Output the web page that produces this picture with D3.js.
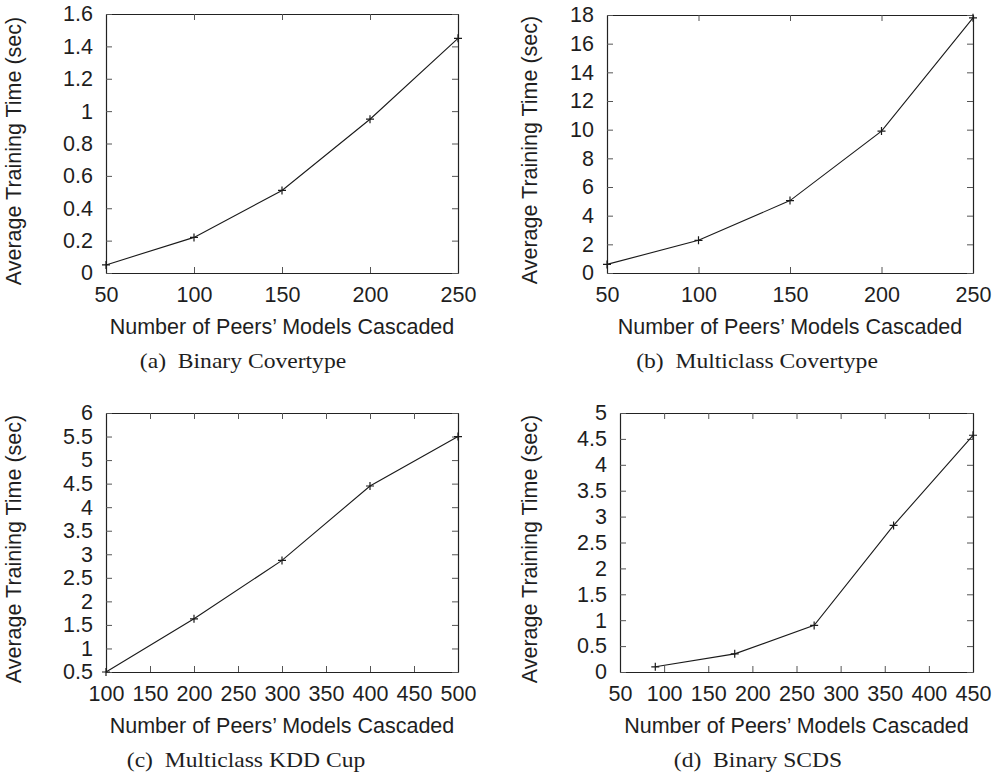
<!DOCTYPE html>
<html>
<head>
<meta charset="utf-8">
<script src="https://cdn.jsdelivr.net/npm/d3@7"></script>
<style>
  body { margin: 0; background: #fff; }
  svg { display: block; }
  .axis text { font-family: "Liberation Sans", Arial, sans-serif; font-size: 21.5px; fill: #1e1e1e; }
  .axis .domain { stroke: #222; stroke-width: 1.2; }
  .axis line { stroke: #555; stroke-width: 1; }
</style>
</head>
<body>
<div id="chart"></div>
<script>
// ******************** data ********************
const xBinaryCover = [50, 100, 150, 200, 250]
const yBinaryCover = [0.05, 0.22, 0.51, 0.95, 1.45]

const xMultiCover = [50, 100, 150, 200, 250]
const yMultiCover = [0.6, 2.28, 5.05, 9.9, 17.8]

const xKdd = [100, 200, 300, 400, 500]
const yKdd = [0.5, 1.63, 2.87, 4.45, 5.5]

const xScds = [90, 180, 270, 360, 450]
const yScds = [0.1, 0.35, 0.9, 2.83, 4.57]

// tick values
const xTicksCover = [50, 100, 150, 200, 250]
const xTicksKdd = [100, 150, 200, 250, 300, 350, 400, 450, 500]
const xTicksScds = [50, 100, 150, 200, 250, 300, 350, 400, 450]
const yTicksBinaryCover = [0, 0.2, 0.4, 0.6, 0.8, 1, 1.2, 1.4, 1.6]
const yTicksMultiCover = [0, 2, 4, 6, 8, 10, 12, 14, 16, 18]
const yTicksKdd = [0.5, 1, 1.5, 2, 2.5, 3, 3.5, 4, 4.5, 5, 5.5, 6]
const yTicksScds = [0, 0.5, 1, 1.5, 2, 2.5, 3, 3.5, 4, 4.5, 5]

const captionTags = ["(a)", "(b)", "(c)", "(d)"]
const captionNames = ["Binary Covertype", "Multiclass Covertype", "Multiclass KDD Cup", "Binary SCDS"]

const xTitle = "Number of Peers\u2019 Models Cascaded"
const yTitle = "Average Training Time (sec)"

// ******************** layout ********************
const width = 1003
const height = 776

const panels = [
  { xs: xBinaryCover, ys: yBinaryCover, xt: xTicksCover, yt: yTicksBinaryCover,
    left: 106, right: 458, top: 14, bottom: 273, ytx: 21, yty: 151, capX: 243, capY: 368 },
  { xs: xMultiCover, ys: yMultiCover, xt: xTicksCover, yt: yTicksMultiCover,
    left: 607, right: 973, top: 15, bottom: 273, ytx: 537, yty: 150, capX: 757, capY: 368 },
  { xs: xKdd, ys: yKdd, xt: xTicksKdd, yt: yTicksKdd,
    left: 106, right: 458, top: 413, bottom: 672, ytx: 21, yty: 549, capX: 246, capY: 767 },
  { xs: xScds, ys: yScds, xt: xTicksScds, yt: yTicksScds,
    left: 620, right: 973, top: 413, bottom: 672, ytx: 537, yty: 549, capX: 758, capY: 767 }
]

const svg = d3.select("#chart")
  .append("svg")
  .attr("width", width)
  .attr("height", height)

panels.forEach((p, i) => {
  const xScale = d3.scaleLinear()
    .domain(d3.extent(p.xt))
    .range([p.left, p.right])

  const yScale = d3.scaleLinear()
    .domain(d3.extent(p.yt))
    .range([p.bottom, p.top])

  const g = svg.append("g")

  // bottom axis
  g.append("g")
    .attr("class", "axis")
    .attr("transform", "translate(0," + p.bottom + ")")
    .call(d3.axisBottom(xScale).tickValues(p.xt).tickFormat(d3.format("~g"))
      .tickSize(-6).tickSizeOuter(0).tickPadding(14))

  // top mirror ticks
  g.append("g")
    .attr("class", "axis")
    .attr("transform", "translate(0," + p.top + ")")
    .call(d3.axisTop(xScale).tickValues(p.xt).tickFormat("")
      .tickSize(-6).tickSizeOuter(0))

  // left axis
  g.append("g")
    .attr("class", "axis")
    .attr("transform", "translate(" + p.left + ",0)")
    .call(d3.axisLeft(yScale).tickValues(p.yt).tickFormat(d3.format("~g"))
      .tickSize(-6).tickSizeOuter(0).tickPadding(13))

  // right mirror ticks
  g.append("g")
    .attr("class", "axis")
    .attr("transform", "translate(" + p.right + ",0)")
    .call(d3.axisRight(yScale).tickValues(p.yt).tickFormat("")
      .tickSize(-6).tickSizeOuter(0))

  // line
  const pts = p.xs.map((x, k) => [x, p.ys[k]])
  const line = d3.line()
    .x(d => xScale(d[0]))
    .y(d => yScale(d[1]))

  g.append("path")
    .datum(pts)
    .attr("d", line)
    .attr("fill", "none")
    .attr("stroke", "#1a1a1a")
    .attr("stroke-width", 1.1)

  // "+" markers
  g.selectAll(".pt")
    .data(pts)
    .enter()
    .append("path")
    .attr("class", "pt")
    .attr("transform", d => "translate(" + xScale(d[0]) + "," + yScale(d[1]) + ")")
    .attr("d", "M-4,0H4M0,-4V4")
    .attr("stroke", "#1a1a1a")
    .attr("stroke-width", 1.2)

  // axis titles
  g.append("text")
    .attr("x", (p.left + p.right) / 2)
    .attr("y", p.bottom + 61)
    .attr("text-anchor", "middle")
    .style("font-family", "'Liberation Sans', Arial, sans-serif")
    .style("font-size", "21.5px")
    .style("fill", "#1e1e1e")
    .text(xTitle)

  g.append("text")
    .attr("transform", "translate(" + p.ytx + "," + p.yty + ") rotate(-90)")
    .attr("text-anchor", "middle")
    .style("font-family", "'Liberation Sans', Arial, sans-serif")
    .style("font-size", "21.5px")
    .style("fill", "#1e1e1e")
    .text(yTitle)

  // caption (LaTeX look: serif, stretched a bit wider than Times)
  const cap = g.append("text")
    .attr("transform", "translate(" + p.capX + "," + p.capY + ") scale(1.18,1)")
    .attr("text-anchor", "middle")
    .style("font-family", "'Liberation Serif', 'Times New Roman', serif")
    .style("font-size", "20px")
    .style("fill", "#1e1e1e")
  cap.append("tspan").text(captionTags[i])
  cap.append("tspan").attr("dx", 10).text(captionNames[i])
})
</script>
</body>
</html>
